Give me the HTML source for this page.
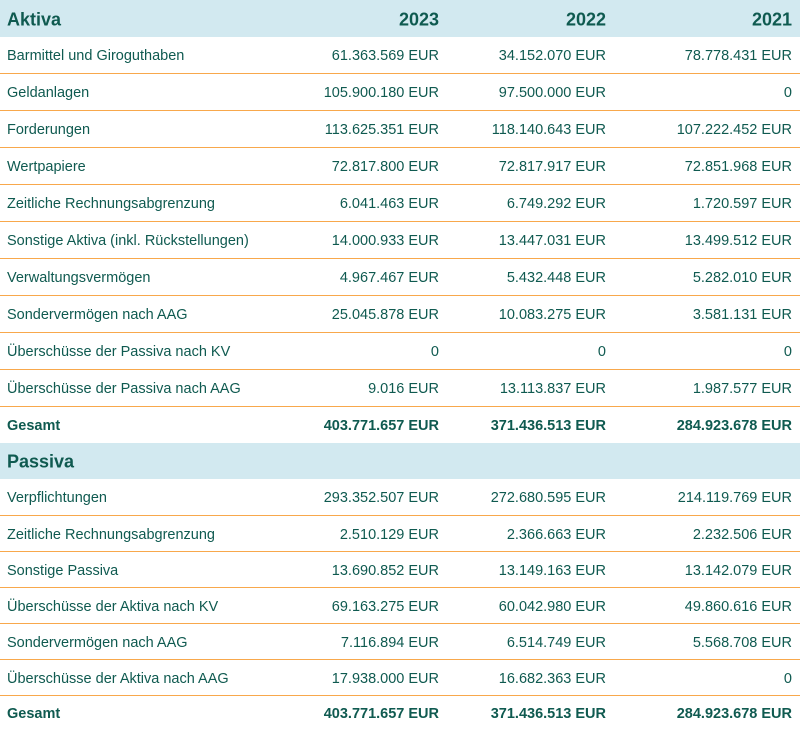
<!DOCTYPE html>
<html><head><meta charset="utf-8"><style>
body{margin:0;width:800px;height:723px;overflow:hidden;background:#fff;font-family:"Liberation Sans",sans-serif;color:#0f5a50}
.r{position:absolute;left:0;width:800px;box-sizing:border-box;border-bottom:1px solid #f8a84c;font-size:14.5px}
.h{background:#d2e9f0;border-bottom:none;font-weight:bold;font-size:18px}
.r span{position:absolute;top:50%;transform:translateY(-45%);white-space:nowrap}
.l{left:7px}.a{right:361px}.b{right:194px}.c{right:8px}
.g{font-weight:bold}
</style></head><body>
<div class="r h" style="top:0;height:37px"><span class="l">Aktiva</span><span class="a">2023</span><span class="b">2022</span><span class="c">2021</span></div>
<div class="r" style="top:37px;height:37px"><span class="l">Barmittel und Giroguthaben</span><span class="a">61.363.569 EUR</span><span class="b">34.152.070 EUR</span><span class="c">78.778.431 EUR</span></div>
<div class="r" style="top:74px;height:37px"><span class="l">Geldanlagen</span><span class="a">105.900.180 EUR</span><span class="b">97.500.000 EUR</span><span class="c">0</span></div>
<div class="r" style="top:111px;height:37px"><span class="l">Forderungen</span><span class="a">113.625.351 EUR</span><span class="b">118.140.643 EUR</span><span class="c">107.222.452 EUR</span></div>
<div class="r" style="top:148px;height:37px"><span class="l">Wertpapiere</span><span class="a">72.817.800 EUR</span><span class="b">72.817.917 EUR</span><span class="c">72.851.968 EUR</span></div>
<div class="r" style="top:185px;height:37px"><span class="l">Zeitliche Rechnungsabgrenzung</span><span class="a">6.041.463 EUR</span><span class="b">6.749.292 EUR</span><span class="c">1.720.597 EUR</span></div>
<div class="r" style="top:222px;height:37px"><span class="l">Sonstige Aktiva (inkl. Rückstellungen)</span><span class="a">14.000.933 EUR</span><span class="b">13.447.031 EUR</span><span class="c">13.499.512 EUR</span></div>
<div class="r" style="top:259px;height:37px"><span class="l">Verwaltungsvermögen</span><span class="a">4.967.467 EUR</span><span class="b">5.432.448 EUR</span><span class="c">5.282.010 EUR</span></div>
<div class="r" style="top:296px;height:37px"><span class="l">Sondervermögen nach AAG</span><span class="a">25.045.878 EUR</span><span class="b">10.083.275 EUR</span><span class="c">3.581.131 EUR</span></div>
<div class="r" style="top:333px;height:37px"><span class="l">Überschüsse der Passiva nach KV</span><span class="a">0</span><span class="b">0</span><span class="c">0</span></div>
<div class="r" style="top:370px;height:37px"><span class="l">Überschüsse der Passiva nach AAG</span><span class="a">9.016 EUR</span><span class="b">13.113.837 EUR</span><span class="c">1.987.577 EUR</span></div>
<div class="r g" style="top:407px;height:36px;border-bottom:none"><span class="l">Gesamt</span><span class="a">403.771.657 EUR</span><span class="b">371.436.513 EUR</span><span class="c">284.923.678 EUR</span></div>
<div class="r h" style="top:443px;height:36px"><span class="l">Passiva</span></div>
<div class="r" style="top:479px;height:37px"><span class="l">Verpflichtungen</span><span class="a">293.352.507 EUR</span><span class="b">272.680.595 EUR</span><span class="c">214.119.769 EUR</span></div>
<div class="r" style="top:516px;height:36px"><span class="l">Zeitliche Rechnungsabgrenzung</span><span class="a">2.510.129 EUR</span><span class="b">2.366.663 EUR</span><span class="c">2.232.506 EUR</span></div>
<div class="r" style="top:552px;height:36px"><span class="l">Sonstige Passiva</span><span class="a">13.690.852 EUR</span><span class="b">13.149.163 EUR</span><span class="c">13.142.079 EUR</span></div>
<div class="r" style="top:588px;height:36px"><span class="l">Überschüsse der Aktiva nach KV</span><span class="a">69.163.275 EUR</span><span class="b">60.042.980 EUR</span><span class="c">49.860.616 EUR</span></div>
<div class="r" style="top:624px;height:36px"><span class="l">Sondervermögen nach AAG</span><span class="a">7.116.894 EUR</span><span class="b">6.514.749 EUR</span><span class="c">5.568.708 EUR</span></div>
<div class="r" style="top:660px;height:36px"><span class="l">Überschüsse der Aktiva nach AAG</span><span class="a">17.938.000 EUR</span><span class="b">16.682.363 EUR</span><span class="c">0</span></div>
<div class="r g" style="top:696px;height:34px;border-bottom:none"><span class="l">Gesamt</span><span class="a">403.771.657 EUR</span><span class="b">371.436.513 EUR</span><span class="c">284.923.678 EUR</span></div>
</body></html>
